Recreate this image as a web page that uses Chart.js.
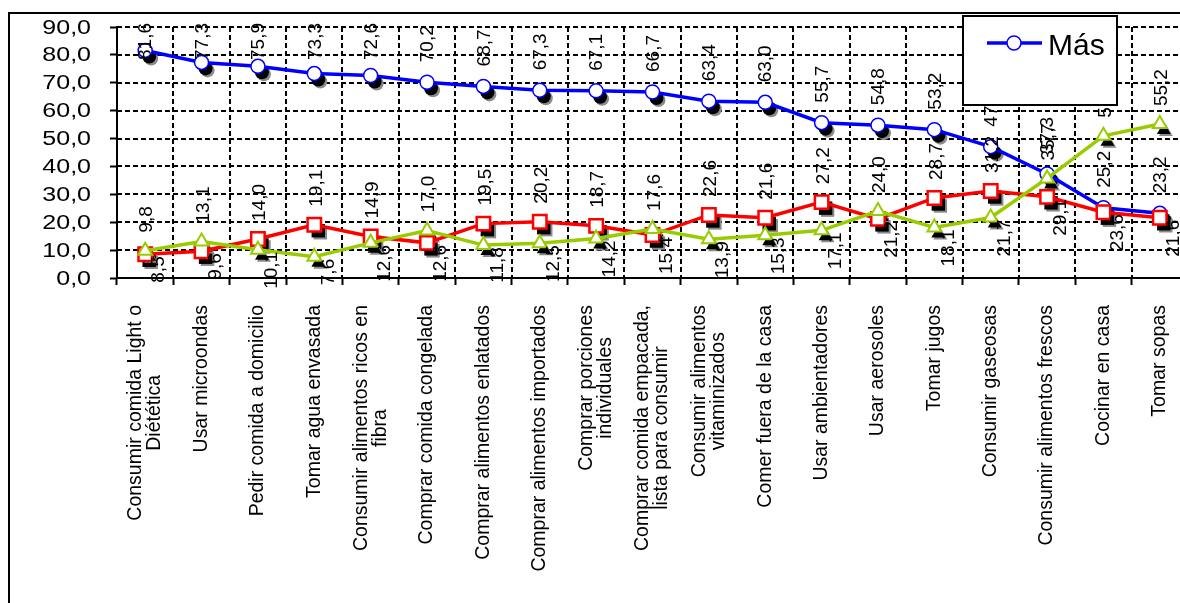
<!DOCTYPE html>
<html>
<head>
<meta charset="utf-8">
<script src="https://cdn.jsdelivr.net/npm/chart.js@4.4.1/dist/chart.umd.min.js"></script>
<style>
  html, body { margin: 0; padding: 0; background: #fff; overflow: hidden; }
  #wrap { position: relative; width: 1180px; height: 603px; overflow: hidden; }
  #grafico { position: absolute; left: 0; top: 0; }
  #marco { position: absolute; left: 8px; top: 12px; width: 1300px; height: 700px;
           border: 2px solid #000; pointer-events: none; }
</style>
</head>
<body>
<div id="wrap">
  <canvas id="grafico" width="1200" height="603"></canvas>
  <div id="marco"></div>
</div>
<script>
/* Datos */
var categorias = [
  ['Consumir comida Light o', 'Diétética'],
  ['Usar microondas'],
  ['Pedir comida a domicilio'],
  ['Tomar agua envasada'],
  ['Consumir alimentos ricos en', 'fibra'],
  ['Comprar comida congelada'],
  ['Comprar alimentos enlatados'],
  ['Comprar alimentos importados'],
  ['Comprar porciones', 'individuales'],
  ['Comprar comida empacada,', 'lista para consumir'],
  ['Consumir alimentos', 'vitaminizados'],
  ['Comer fuera de la casa'],
  ['Usar ambientadores'],
  ['Usar aerosoles'],
  ['Tomar jugos'],
  ['Consumir gaseosas'],
  ['Consumir alimentos frescos'],
  ['Cocinar en casa'],
  ['Tomar sopas']
];

var valoresMas   = [81.6, 77.3, 75.9, 73.3, 72.6, 70.2, 68.7, 67.3, 67.1, 66.7, 63.4, 63.0, 55.7, 54.8, 53.2, 47.1, 37.3, 25.2, 23.2];
var valoresRojo  = [8.5, 9.6, 14.0, 19.1, 14.9, 12.6, 19.5, 20.2, 18.7, 15.4, 22.6, 21.6, 27.2, 21.2, 28.7, 31.2, 29.1, 23.6, 21.6];
var valoresVerde = [9.8, 13.1, 10.1, 7.6, 12.6, 17.0, 11.8, 12.5, 14.2, 17.6, 13.9, 15.3, 17.1, 24.0, 18.1, 21.7, 35.7, 51.0, 55.2];

var ejeYMin = 0;
var ejeYMax = 90;
var ejeYPaso = 10;

var FUENTE = '"Liberation Sans", Arial, sans-serif';

function fmt(v) { return v.toFixed(1).replace('.', ','); }

/* texto girado 90 grados, se lee de abajo hacia arriba */
function textoVertical(ctx, txt, x, y, haciaArriba) {
  ctx.save();
  ctx.translate(x, y);
  ctx.rotate(-Math.PI / 2);
  ctx.textBaseline = 'middle';
  ctx.textAlign = haciaArriba ? 'left' : 'right';
  ctx.fillText(txt, 0, 0);
  ctx.restore();
}

/* ─── rejilla punteada ─── */
var rejilla = {
  id: 'rejilla',
  beforeDatasetsDraw: function(chart) {
    var ctx = chart.ctx, area = chart.chartArea;
    var xs = chart.scales.x, ys = chart.scales.y;
    var paso = xs.getPixelForTick(1) - xs.getPixelForTick(0);
    ctx.save();
    ctx.strokeStyle = '#000';
    ctx.lineWidth = 2;
    ctx.setLineDash([5, 3]);
    ys.ticks.forEach(function(t) {
      if (t.value === ejeYMin) return;
      var y = Math.round(ys.getPixelForValue(t.value));
      ctx.beginPath();
      ctx.moveTo(area.left, y);
      ctx.lineTo(area.right, y);
      ctx.stroke();
    });
    for (var i = 0; i < categorias.length; i++) {
      var x = Math.round(xs.getPixelForTick(i) + paso / 2);
      ctx.beginPath();
      ctx.moveTo(x, area.top);
      ctx.lineTo(x, area.bottom);
      ctx.stroke();
    }
    ctx.restore();
  }
};

/* ─── sombras negras bajo cada marcador ─── */
var sombras = {
  id: 'sombras',
  beforeDatasetsDraw: function(chart) {
    var ctx = chart.ctx;
    chart.data.datasets.forEach(function(ds, i) {
      var meta = chart.getDatasetMeta(i);
      var opts = { pointStyle: ds.pointStyle, radius: ds.pointRadius, rotation: 0, borderWidth: 0 };
      meta.data.forEach(function(pt) {
        ctx.save();
        ctx.fillStyle = '#8a8a8a';
        Chart.helpers.drawPoint(ctx, opts, pt.x + 6, pt.y + 8);
        ctx.fillStyle = '#000';
        Chart.helpers.drawPoint(ctx, opts, pt.x + 4, pt.y + 6);
        ctx.restore();
      });
    });
  }
};

/* ─── etiquetas de valores ─── */
var etiquetas = {
  id: 'etiquetas',
  afterDatasetsDraw: function(chart) {
    var ctx = chart.ctx;
    var mMas = chart.getDatasetMeta(0);
    var mRojo = chart.getDatasetMeta(1);
    var mVerde = chart.getDatasetMeta(2);
    ctx.save();
    ctx.fillStyle = '#000';
    ctx.font = '19px ' + FUENTE;

    mMas.data.forEach(function(pt, i) {
      var txt = fmt(valoresMas[i]);
      var w = ctx.measureText(txt).width;
      var y0 = pt.y - 20;
      if (y0 - w < 23) y0 = 23 + w;
      textoVertical(ctx, txt, pt.x + 1, y0, true);
    });

    // la serie mas alta lleva la etiqueta encima, la otra debajo
    valoresRojo.forEach(function(v, i) {
      var pr = mRojo.data[i], pv = mVerde.data[i];
      var arriba = v >= valoresVerde[i] ? pr : pv;
      var abajo  = v >= valoresVerde[i] ? pv : pr;
      var tArriba = fmt(Math.max(v, valoresVerde[i]));
      var tAbajo  = fmt(Math.min(v, valoresVerde[i]));
      textoVertical(ctx, tArriba, arriba.x + 2, arriba.y - 18, true);
      textoVertical(ctx, tAbajo, abajo.x + 14, abajo.y + 2, false);
    });
    ctx.restore();
  }
};

/* ─── rotulos de ejes y leyenda ─── */
var rotulos = {
  id: 'rotulos',
  afterDraw: function(chart) {
    var ctx = chart.ctx;
    var xs = chart.scales.x, ys = chart.scales.y;
    ctx.save();
    ctx.fillStyle = '#000';

    /* eje Y: numeros anchos */
    ctx.font = '20px ' + FUENTE;
    ctx.textBaseline = 'middle';
    ctx.textAlign = 'right';
    ys.ticks.forEach(function(t) {
      var y = ys.getPixelForValue(t.value);
      ctx.save();
      ctx.translate(91, y + 1);
      ctx.scale(1.25, 1);
      ctx.fillText(fmt(t.value), 0, 0);
      ctx.restore();
    });

    /* eje X: categorias giradas, lineas centradas entre si */
    ctx.font = '19.5px ' + FUENTE;
    var tope = 305, alto = 19;
    categorias.forEach(function(lineas, i) {
      var cx = xs.getPixelForTick(i);
      var ancho = 0;
      lineas.forEach(function(l) { ancho = Math.max(ancho, ctx.measureText(l).width); });
      ctx.save();
      ctx.translate(cx, tope);
      ctx.rotate(-Math.PI / 2);
      ctx.textAlign = 'center';
      ctx.textBaseline = 'middle';
      lineas.forEach(function(l, k) {
        ctx.fillText(l, -ancho / 2, (k - (lineas.length - 1) / 2) * alto);
      });
      ctx.restore();
    });

    /* leyenda */
    var ds = chart.data.datasets[0];
    ctx.fillStyle = '#fff';
    ctx.fillRect(963, 16, 154, 89);
    ctx.lineWidth = 2;
    ctx.strokeStyle = '#000';
    ctx.strokeRect(963, 16, 154, 89);
    ctx.strokeStyle = ds.borderColor;
    ctx.lineWidth = ds.borderWidth;
    ctx.beginPath();
    ctx.moveTo(987, 43);
    ctx.lineTo(1042, 43);
    ctx.stroke();
    ctx.fillStyle = ds.pointBackgroundColor;
    ctx.lineWidth = ds.pointBorderWidth;
    Chart.helpers.drawPoint(ctx, { pointStyle: 'circle', radius: ds.pointRadius, rotation: 0, borderWidth: ds.pointBorderWidth }, 1014, 43);
    ctx.fillStyle = '#000';
    ctx.font = '30px ' + FUENTE;
    ctx.textAlign = 'left';
    ctx.textBaseline = 'alphabetic';
    ctx.fillText(ds.label, 1048, 55);
    ctx.restore();
  }
};

var grafico = new Chart(document.getElementById('grafico'), {
  type: 'line',
  data: {
    labels: categorias,
    datasets: [
      {
        label: 'Más',
        data: valoresMas,
        borderColor: '#0000ff',
        borderWidth: 3.5,
        pointStyle: 'circle',
        pointRadius: 7,
        pointBorderWidth: 1.5,
        pointBackgroundColor: '#ffffff',
        pointBorderColor: '#0000ff',
        order: 2
      },
      {
        label: 'Igual',
        data: valoresRojo,
        borderColor: '#ff0000',
        borderWidth: 3.5,
        pointStyle: 'rect',
        pointRadius: 9.5,
        pointBorderWidth: 2.5,
        pointBackgroundColor: '#ffffff',
        pointBorderColor: '#ff0000',
        order: 1
      },
      {
        label: 'Menos',
        data: valoresVerde,
        borderColor: '#99cc00',
        borderWidth: 3.5,
        pointStyle: 'triangle',
        pointRadius: 8,
        pointBorderWidth: 2,
        pointBackgroundColor: '#ffffff',
        pointBorderColor: '#99cc00',
        order: 0
      }
    ]
  },
  options: {
    responsive: false,
    animation: false,
    layout: { padding: { top: 27, right: 12, left: 0, bottom: 0 } },
    plugins: { legend: { display: false }, tooltip: { enabled: false } },
    scales: {
      x: {
        offset: true,
        grid: { offset: true, drawOnChartArea: false, color: '#000', tickLength: 7, tickColor: '#000', tickWidth: 2 },
        border: { display: true, color: '#000', width: 2 },
        ticks: { display: false },
        afterFit: function(s) { s.height = 325; }
      },
      y: {
        min: ejeYMin,
        max: ejeYMax,
        grid: { drawOnChartArea: false, color: '#000', tickLength: 7, tickColor: '#000', tickWidth: 2 },
        border: { display: true, color: '#000', width: 2 },
        ticks: { stepSize: ejeYPaso, display: false },
        afterFit: function(s) { s.width = 117; }
      }
    }
  },
  plugins: [rejilla, sombras, etiquetas, rotulos]
});
</script>
</body>
</html>
